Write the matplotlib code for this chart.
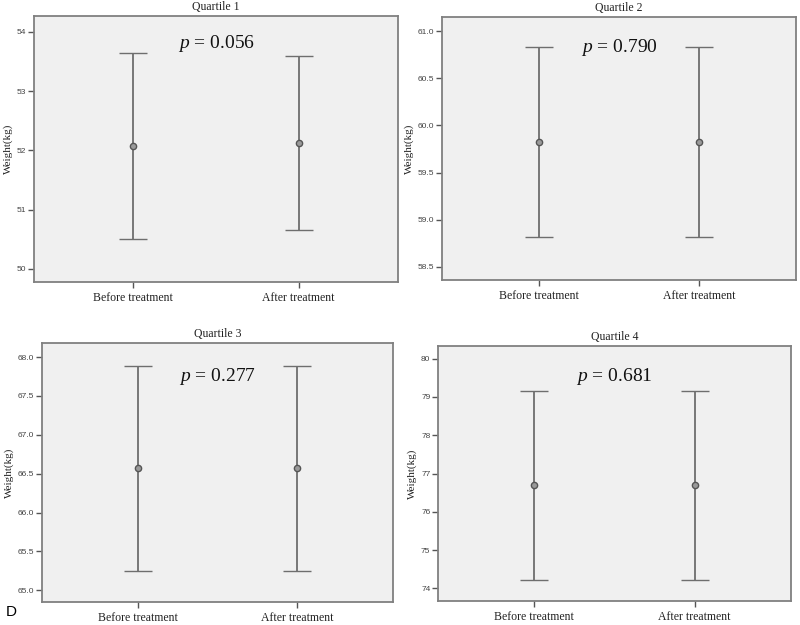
import matplotlib
matplotlib.use("Agg")
import matplotlib.pyplot as plt

# data
groups = ["Before treatment", "After treatment"]
titles = ["Quartile 1", "Quartile 2", "Quartile 3", "Quartile 4"]
p_texts = ["0.056", "0.790", "0.277", "0.681"]

q1_mean = [52.07, 52.12]
q1_low = [50.51, 50.66]
q1_high = [53.64, 53.60]

q2_mean = [59.82, 59.82]
q2_low = [58.82, 58.82]
q2_high = [60.83, 60.83]

q3_mean = [66.57, 66.57]
q3_low = [65.25, 65.25]
q3_high = [67.88, 67.88]

q4_mean = [76.70, 76.70]
q4_low = [74.23, 74.23]
q4_high = [79.16, 79.16]

yticks = [
    [50, 51, 52, 53, 54],
    [58.5, 59.0, 59.5, 60.0, 60.5, 61.0],
    [65.0, 65.5, 66.0, 66.5, 67.0, 67.5, 68.0],
    [74, 75, 76, 77, 78, 79, 80],
]
ylims = [(49.78, 54.27), (58.36, 61.15), (64.85, 68.18), (73.67, 80.33)]
ytick_fmt = ["{:.0f}", "{:.1f}", "{:.1f}", "{:.0f}"]

# axes boxes in pixels: left, top, right, bottom
boxes = [(34, 16, 398, 282), (442, 17, 796, 280), (42, 343, 393, 602), (438, 346, 791, 601)]
p_y = [0.895, 0.885, 0.87, 0.88]

W, H = 800, 625
plt.rcParams["mathtext.fontset"] = "custom"
plt.rcParams["mathtext.rm"] = "Liberation Serif"
plt.rcParams["mathtext.it"] = "Liberation Serif:italic"
fig = plt.figure(figsize=(8, 6.25), dpi=100)

serif = ["Liberation Serif", "DejaVu Serif"]
sans = ["Liberation Sans", "DejaVu Sans"]
edge = "#808080"
bar_c = "#6e6e6e"

data = [(q1_mean, q1_low, q1_high), (q2_mean, q2_low, q2_high),
        (q3_mean, q3_low, q3_high), (q4_mean, q4_low, q4_high)]

for i, (mean, low, high) in enumerate(data):
    l, t, r, b = boxes[i]
    ax = fig.add_axes([l / W, 1 - b / H, (r - l) / W, (b - t) / H])
    ax.set_facecolor("#f0f0f0")
    x = list(range(len(groups)))
    err = [[m - lo for m, lo in zip(mean, low)], [hi - m for m, hi in zip(mean, high)]]
    ax.errorbar(x, mean, yerr=err, fmt="o", color=bar_c, ecolor=bar_c,
                elinewidth=1.3, capsize=10, capthick=1.3,
                markersize=4.5, markerfacecolor="#9a9a9a", markeredgecolor="#555555",
                markeredgewidth=1)
    ax.set_xlim(-0.6, 1.6)
    ax.set_ylim(*ylims[i])
    ax.set_xticks(x)
    ax.set_xticklabels(groups, fontfamily=serif, fontsize=8.5, color="#222222")
    ax.set_yticks(yticks[i])
    ax.set_yticklabels([ytick_fmt[i].format(v) for v in yticks[i]],
                       fontfamily=sans, fontsize=6, color="#444444")
    ax.tick_params(axis="both", direction="out", length=4, width=1, color="#555555", pad=1.5)
    ax.tick_params(axis="x", pad=3)
    for s in ax.spines.values():
        s.set_color(edge)
        s.set_linewidth(1.3)
    ax.set_ylabel("Weight(kg)", fontfamily=serif, fontsize=8, color="#222222", labelpad=3)
    ax.set_title(titles[i], fontfamily=serif, fontsize=8.5, color="#222222", pad=4)
    ax.text(0.5, p_y[i], "$\\it{p}$ = " + p_texts[i], transform=ax.transAxes,
            ha="center", va="center", fontfamily=serif, fontsize=14, color="#111111")

fig.text(6 / W, 1 - 612 / H, "D", fontfamily=sans, fontsize=11, ha="left", va="center")

fig.savefig("out.png", dpi=100, facecolor="white")
